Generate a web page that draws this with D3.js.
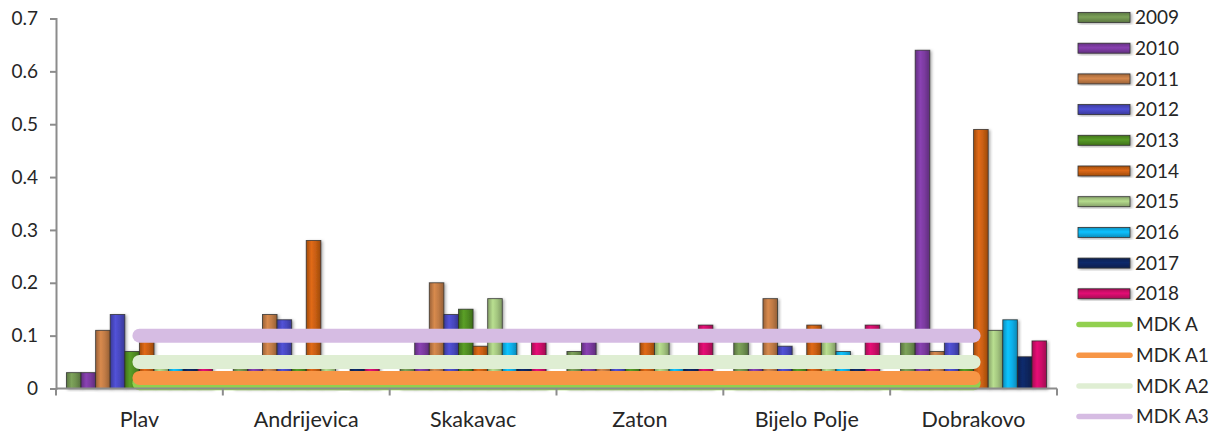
<!DOCTYPE html>
<html><head><meta charset="utf-8">
<script src="https://cdn.jsdelivr.net/npm/d3@7"></script>
<style>
html,body{margin:0;padding:0;background:#fff;}
svg{display:block;font-family:Lato, "Open Sans", sans-serif;}
</style></head>
<body>
<svg id="chart" width="1214" height="431"></svg>
<script>
const categories = ["Plav","Andrijevica","Skakavac","Zaton","Bijelo Polje","Dobrakovo"];
const years = ["2009","2010","2011","2012","2013","2014","2015","2016","2017","2018"];
const v2009 = [0.03, 0.05, 0.05, 0.07, 0.09, 0.09];
const v2010 = [0.03, 0.05, 0.09, 0.09, 0.05, 0.64];
const v2011 = [0.11, 0.14, 0.20, 0.05, 0.17, 0.07];
const v2012 = [0.14, 0.13, 0.14, 0.05, 0.08, 0.09];
const v2013 = [0.07, 0.05, 0.15, 0.05, 0.05, 0.05];
const v2014 = [0.09, 0.28, 0.08, 0.09, 0.12, 0.49];
const v2015 = [0.05, 0.05, 0.17, 0.09, 0.09, 0.11];
const v2016 = [0.05, 0.02, 0.09, 0.05, 0.07, 0.13];
const v2017 = [0.05, 0.05, 0.05, 0.05, 0.05, 0.06];
const v2018 = [0.05, 0.05, 0.09, 0.12, 0.12, 0.09];
const limitNames = ["MDK A","MDK A1","MDK A2","MDK A3"];
const limitValues = [0.01, 0.02, 0.05, 0.1];
const yTicks = [0, 0.1, 0.2, 0.3, 0.4, 0.5, 0.6, 0.7];

const barValues = [v2009,v2010,v2011,v2012,v2013,v2014,v2015,v2016,v2017,v2018];
const barColors = ["#6f9150","#7a3a9e","#bf7a45","#4848bf","#4f8c22","#c75e12","#a3c57f","#08aee8","#0e2660","#cc0a68"];
const lineColors = ["#92d050","#f79646","#dfeed3","#d6bce3"];

const svg = d3.select("#chart");
const x0 = d3.scaleBand().domain(categories).range([56,1057]).paddingInner(0.125).paddingOuter(0.0625);
const x1 = d3.scaleBand().domain(years).range([0, x0.bandwidth()]);
const y = d3.scaleLinear().domain([0,0.7]).range([388.5,18.5]);

const defs = svg.append("defs");
barColors.forEach((c,i)=>{
  const base = d3.color(c);
  const g = defs.append("linearGradient").attr("id","gh"+i).attr("x1","0").attr("x2","1").attr("y1","0").attr("y2","0");
  g.append("stop").attr("offset","0%").attr("stop-color", base.darker(0.6));
  g.append("stop").attr("offset","35%").attr("stop-color", base.brighter(0.35));
  g.append("stop").attr("offset","65%").attr("stop-color", base);
  g.append("stop").attr("offset","100%").attr("stop-color", base.darker(0.7));
  const gv = defs.append("linearGradient").attr("id","gv"+i).attr("x1","0").attr("x2","0").attr("y1","0").attr("y2","1");
  gv.append("stop").attr("offset","0%").attr("stop-color", base.darker(0.5));
  gv.append("stop").attr("offset","45%").attr("stop-color", base.brighter(0.3));
  gv.append("stop").attr("offset","100%").attr("stop-color", base.darker(0.6));
});
const f = defs.append("filter").attr("id","shadow").attr("x","-30%").attr("y","-10%").attr("width","160%").attr("height","130%");
f.append("feDropShadow").attr("dx",1.5).attr("dy",1).attr("stdDeviation",1.6).attr("flood-color","#000").attr("flood-opacity",0.35);

// bars
const groups = svg.append("g").selectAll("g").data(categories).join("g")
  .attr("transform", d=>`translate(${x0(d)},0)`);
groups.selectAll("rect").data((d,ci)=>years.map((yr,si)=>({yr, si, v: barValues[si][ci]}))).join("rect")
  .attr("x", d=>x1(d.yr))
  .attr("width", x1.bandwidth())
  .attr("y", d=>y(d.v))
  .attr("height", d=>y(0)-y(d.v))
  .attr("fill", d=>`url(#gh${d.si})`)
  .attr("stroke","#2b2b2b").attr("stroke-width",0.9).attr("stroke-opacity",0.8)
  .attr("filter","url(#shadow)");

// limit lines
limitValues.forEach((v,i)=>{
  const pts = categories.map(c=>({c, v}));
  svg.append("path").datum(pts)
    .attr("d", d3.line().x(d=>x0(d.c)+x0.bandwidth()/2).y(d=>y(d.v)))
    .attr("fill","none").attr("stroke", lineColors[i]).attr("stroke-width",14)
    .attr("stroke-linecap","round");
});

// axes
const axisColor = "#8c8c8c";
const yAxis = svg.append("g").attr("transform","translate(56,0)")
  .call(d3.axisLeft(y).tickValues(yTicks).tickSize(6).tickPadding(12).tickFormat(d=>d===0?"0":d3.format(".1f")(d)));
yAxis.select(".domain").attr("stroke",axisColor).attr("stroke-width",2);
yAxis.selectAll(".tick line").attr("stroke",axisColor).attr("stroke-width",2);
yAxis.selectAll("text").attr("font-size",19).attr("fill","#262626").attr("font-family","Lato");

const edges = categories.map(c=>x0(c)-x0.step()*0.0625).concat([1057]);
const xAxis = svg.append("g");
xAxis.append("line").attr("x1",56).attr("x2",1057).attr("y1",y(0)).attr("y2",y(0)).attr("stroke",axisColor).attr("stroke-width",2);
xAxis.selectAll("line.t").data(edges).join("line").attr("class","t")
  .attr("x1",d=>d).attr("x2",d=>d).attr("y1",y(0)).attr("y2",y(0)+7)
  .attr("stroke",axisColor).attr("stroke-width",2);
xAxis.selectAll("text").data(categories).join("text")
  .attr("x",d=>x0(d)+x0.bandwidth()/2).attr("y",427)
  .attr("text-anchor","middle").attr("font-size",21.5).attr("fill","#262626").text(d=>d);

// legend
const leg = svg.append("g");
const rowY = i => 17.5 + i*30.7;
years.forEach((yr,i)=>{
  leg.append("rect").attr("x",1078).attr("y",rowY(i)-5).attr("width",52).attr("height",10)
    .attr("fill",`url(#gv${i})`).attr("stroke","#333").attr("stroke-width",0.8).attr("filter","url(#shadow)");
  leg.append("text").attr("x",1135).attr("y",rowY(i)).attr("dy","0.35em").attr("font-size",19).attr("fill","#262626").text(yr);
});
limitNames.forEach((n,k)=>{
  const i = years.length + k;
  leg.append("line").attr("x1",1079).attr("x2",1130).attr("y1",rowY(i)).attr("y2",rowY(i))
    .attr("stroke",lineColors[k]).attr("stroke-width",5.5).attr("stroke-linecap","round");
  leg.append("text").attr("x",1136).attr("y",rowY(i)).attr("dy","0.35em").attr("font-size",19).attr("fill","#262626").text(n);
});
</script>
</body></html>
